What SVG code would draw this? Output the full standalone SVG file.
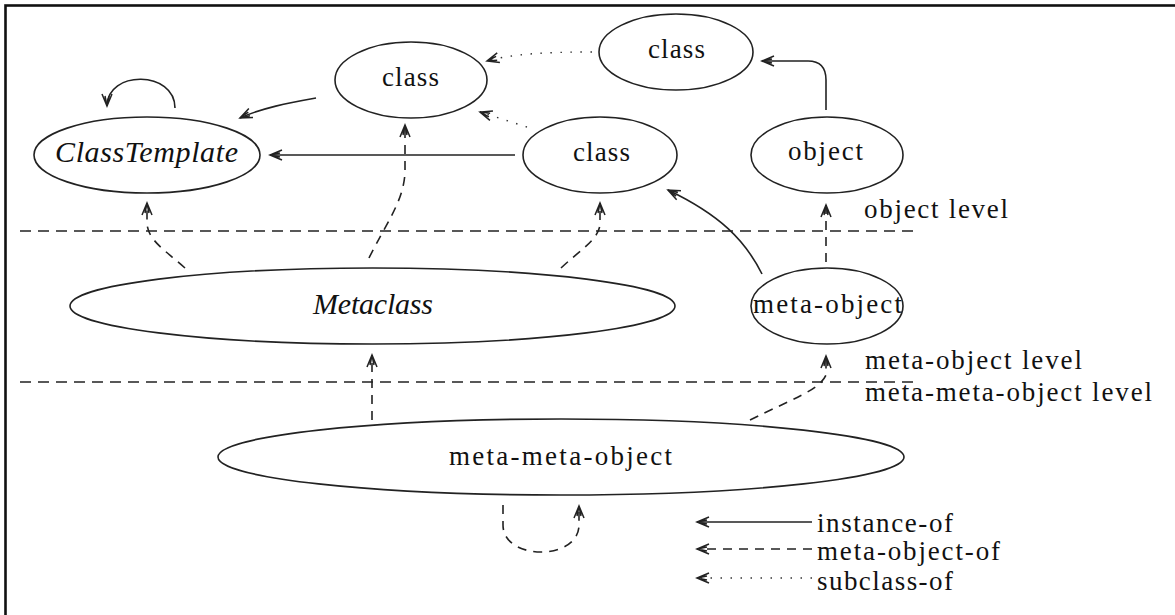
<svg xmlns="http://www.w3.org/2000/svg" width="1175" height="615" viewBox="0 0 1175 615">
  <defs>
    <style>
      .node { fill: none; stroke: #222; stroke-width: 1.6; }
      .lbl { font-family: "Liberation Serif", "DejaVu Serif", serif; font-size: 27px; fill: #111; }
      .it { font-style: italic; font-size: 30px; }
      .inst { fill: none; stroke: #222; stroke-width: 1.6; }
      .meta { fill: none; stroke: #222; stroke-width: 1.6; stroke-dasharray: 9 7; }
      .sub { fill: none; stroke: #333; stroke-width: 1.4; stroke-dasharray: 1.5 8.5; }
      .level { fill: none; stroke: #222; stroke-width: 1.4; stroke-dasharray: 11 7; }
      .head { fill: none; stroke: #222; stroke-width: 1.5; stroke-dasharray: none; }
    </style>
    <marker id="arrow" viewBox="-14 -7 16 14" refX="0" refY="0" markerWidth="16" markerHeight="14" markerUnits="userSpaceOnUse" orient="auto">
      <path class="head" d="M-12,-5 L0,0 L-12,5 M-10,-2 L0,0 L-10,2"/>
    </marker>
  </defs>

  <!-- frame -->
  <rect x="5.5" y="5.5" width="1190" height="640" fill="none" stroke="#111" stroke-width="2.6"/>

  <!-- level separators -->
  <g id="levels">
    <line class="level" x1="20" y1="231" x2="913" y2="231"/>
    <line class="level" x1="20" y1="382" x2="913" y2="382"/>
  </g>

  <!-- connectors -->
  <g id="connectors">
    <!-- instance-of -->
    <path class="inst" d="M175,108 C175,70 107,70 107,106" marker-end="url(#arrow)"/>
    <path class="inst" d="M316,98 C288,103 262,108 240,118" marker-end="url(#arrow)"/>
    <path class="inst" d="M515,155 L270,155" marker-end="url(#arrow)"/>
    <path class="inst" d="M826,110 L826,80 C826,67 820,61 808,61 L762,61" marker-end="url(#arrow)"/>
    <path class="inst" d="M762,274 C745,240 720,215 668,190" marker-end="url(#arrow)"/>
    <!-- subclass-of -->
    <path class="sub" d="M592,52 C545,52 512,54 487,61" marker-end="url(#arrow)"/>
    <path class="sub" d="M527,127 L480,112" marker-end="url(#arrow)"/>
    <!-- meta-object-of -->
    <path class="meta" d="M185,268 C165,250 147,240 147,222 L147,203" marker-end="url(#arrow)"/>
    <path class="meta" d="M369,258 C385,225 405,200 405,170 L405,125" marker-end="url(#arrow)"/>
    <path class="meta" d="M561,268 C580,250 598,240 600,225 L600,203" marker-end="url(#arrow)"/>
    <path class="meta" d="M826,262 L826,205" marker-end="url(#arrow)"/>
    <path class="meta" d="M372,420 L372,355" marker-end="url(#arrow)"/>
    <path class="meta" d="M750,420 C790,400 820,390 826,375 L826,356" marker-end="url(#arrow)"/>
    <path class="meta" d="M503,505 L503,525 C503,561 579,561 579,525 L579,506" marker-end="url(#arrow)"/>
  </g>

  <!-- nodes -->
  <g id="node-classtemplate">
    <ellipse class="node" cx="147" cy="155" rx="113" ry="38"/>
    <text class="lbl it" x="55" y="162" textLength="183" lengthAdjust="spacing">ClassTemplate</text>
  </g>
  <g id="node-class-a">
    <ellipse class="node" cx="411" cy="80" rx="76" ry="38"/>
    <text class="lbl" x="382" y="86" textLength="57" lengthAdjust="spacing">class</text>
  </g>
  <g id="node-class-b">
    <ellipse class="node" cx="676" cy="52" rx="77" ry="38"/>
    <text class="lbl" x="648" y="58" textLength="57" lengthAdjust="spacing">class</text>
  </g>
  <g id="node-class-c">
    <ellipse class="node" cx="600" cy="155" rx="77" ry="38"/>
    <text class="lbl" x="573" y="161" textLength="57" lengthAdjust="spacing">class</text>
  </g>
  <g id="node-object">
    <ellipse class="node" cx="827" cy="155" rx="76" ry="38"/>
    <text class="lbl" x="788" y="160" textLength="75" lengthAdjust="spacing">object</text>
  </g>
  <g id="node-metaclass">
    <ellipse class="node" cx="372.5" cy="306" rx="302.5" ry="38"/>
    <text class="lbl it" x="313" y="314" textLength="120" lengthAdjust="spacing">Metaclass</text>
  </g>
  <g id="node-meta-object">
    <ellipse class="node" cx="827" cy="306" rx="76" ry="38"/>
    <text class="lbl" x="753" y="313" textLength="149" lengthAdjust="spacing">meta-object</text>
  </g>
  <g id="node-meta-meta-object">
    <ellipse class="node" cx="561" cy="457" rx="343" ry="38"/>
    <text class="lbl" x="449" y="465" textLength="223" lengthAdjust="spacing">meta-meta-object</text>
  </g>

  <!-- level labels -->
  <g id="level-labels">
    <text class="lbl" x="864" y="218" textLength="144" lengthAdjust="spacing">object level</text>
    <text class="lbl" x="865" y="369" textLength="217" lengthAdjust="spacing">meta-object level</text>
    <text class="lbl" x="865" y="401" textLength="287" lengthAdjust="spacing">meta-meta-object level</text>
  </g>

  <!-- legend -->
  <g id="legend">
    <path class="inst" d="M812,522 L697,522" marker-end="url(#arrow)"/>
    <path class="meta" d="M812,549 L697,549" marker-end="url(#arrow)"/>
    <path class="sub" d="M812,578 L697,578" marker-end="url(#arrow)"/>
    <text class="lbl" x="817" y="532" textLength="136" lengthAdjust="spacing">instance-of</text>
    <text class="lbl" x="817" y="560" textLength="183" lengthAdjust="spacing">meta-object-of</text>
    <text class="lbl" x="817" y="590" textLength="136" lengthAdjust="spacing">subclass-of</text>
  </g>
</svg>
